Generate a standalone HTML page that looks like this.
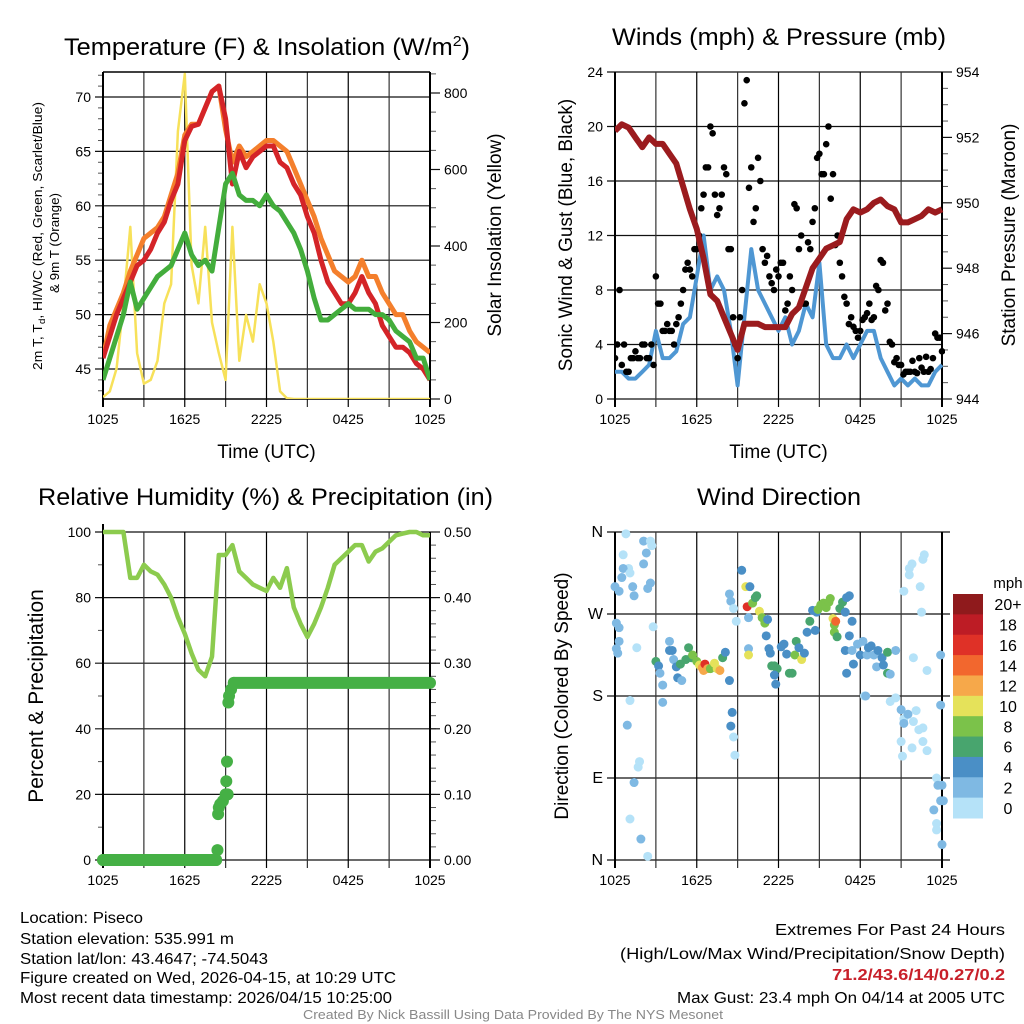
<!DOCTYPE html>
<html><head><meta charset="utf-8">
<style>
html,body{margin:0;padding:0;background:#fff;}
svg{display:block;font-family:"Liberation Sans",sans-serif;}
</style></head>
<body>
<svg id="fig" width="1024" height="1024" viewBox="0 0 1024 1024" xmlns="http://www.w3.org/2000/svg">
<rect width="1024" height="1024" fill="#fff"/>
<g id="p1"></g>
<g id="p2"></g>
<g id="p3"></g>
<g id="p4"></g>

<text x="64" y="55" font-size="24" textLength="406" lengthAdjust="spacingAndGlyphs">Temperature (F) &amp; Insolation (W/m<tspan dy="-9" font-size="15">2</tspan><tspan dy="9">)</tspan></text>
<text x="612" y="45" font-size="24" textLength="334" lengthAdjust="spacingAndGlyphs">Winds (mph) &amp; Pressure (mb)</text>
<text x="38" y="505" font-size="24" textLength="455" lengthAdjust="spacingAndGlyphs">Relative Humidity (%) &amp; Precipitation (in)</text>
<text x="697" y="505" font-size="24" textLength="164" lengthAdjust="spacingAndGlyphs">Wind Direction</text>

<g font-size="16">
<text x="20" y="923" textLength="123" lengthAdjust="spacingAndGlyphs">Location: Piseco</text>
<text x="20" y="944" textLength="214" lengthAdjust="spacingAndGlyphs">Station elevation: 535.991 m</text>
<text x="20" y="964" textLength="248" lengthAdjust="spacingAndGlyphs">Station lat/lon: 43.4647; -74.5043</text>
<text x="20" y="983" textLength="376" lengthAdjust="spacingAndGlyphs">Figure created on Wed, 2026-04-15, at 10:29 UTC</text>
<text x="20" y="1003" textLength="372" lengthAdjust="spacingAndGlyphs">Most recent data timestamp: 2026/04/15 10:25:00</text>
</g>
<g font-size="16">
<text x="775" y="935" textLength="230" lengthAdjust="spacingAndGlyphs">Extremes For Past 24 Hours</text>
<text x="620" y="959" textLength="385" lengthAdjust="spacingAndGlyphs">(High/Low/Max Wind/Precipitation/Snow Depth)</text>
<text x="832" y="980" fill="#c8202a" font-weight="bold" textLength="173" lengthAdjust="spacingAndGlyphs">71.2/43.6/14/0.27/0.2</text>
<text x="677" y="1003" textLength="328" lengthAdjust="spacingAndGlyphs">Max Gust: 23.4 mph On 04/14 at 2005 UTC</text>
</g>
<text x="303" y="1019" font-size="13" fill="#888" textLength="420" lengthAdjust="spacingAndGlyphs">Created By Nick Bassill Using Data Provided By The NYS Mesonet</text>
</svg>
<script>
// ---- data (hours since 1025 UTC) ----
const timeLabels = ["1025","1625","2225","0425","1025"];
const halfHours = []; for (let i=0;i<=48;i++) halfHours.push(i*0.5);
const tempRed = [46,48,50,51.5,53,54.5,55,56,57.5,58.5,60.5,62,66,67.3,67.5,69,70.5,71,68,62,65,63.5,64.5,65,65.5,65.5,64,63.5,62,61,59,57.5,55,53,52,51,51,52,53.5,52,51,49,48,47,47,46.5,45.5,45,44];
const tempOrange = [46,49,50.5,52,54,55.5,57,57.5,58,59,61,63,66.5,67.5,67.5,69,70.5,71,67,64,65.5,64.5,65,65.5,66,66,65.5,65,63.5,62,60.5,59,57,55.5,54,53.5,53,53.5,55,53.5,53.5,52,51,50,50,48.5,47.5,47,46.5];
const dewGreen = [44,46,48,50,53,50.5,51.5,52.5,53.5,54,54.5,56,57.5,55.5,54.5,55,54,58,62,63,61,60.5,60.5,60,61,60,59.5,58.5,57.5,56,54,51.5,49.5,49.5,50,50.5,51,50.5,50.5,50.5,50,50,49.5,48.5,48,47.5,46,46,44];
const solar = [5,20,80,250,450,120,40,50,100,250,300,700,850,350,250,450,200,120,50,450,100,220,150,300,250,150,20,2,0,0,0,0,0,0,0,0,0,0,0,0,0,0,0,0,0,0,0,0,0];
const windSpeed = [2,2,1.5,1.5,2,2.5,5,3,3,3.5,5.5,6,9,12,8,9,8,5,1,6,11,8,7,6,5,6,4,5,7,6,10,4,3,3,4,3,4,5,5,3,2,1,1.5,1,1.5,1,1,2,2.5];
const gustHours = []; for (let i=0;i<=72;i++) gustHours.push(i/3);
const gustSpeed = [3,8,4,2,3,3,4,3,4,9,7,5,5,4,6,8,10,9,11,14,17,20,15,14,17,11,6,3,8,23.4,17,14,16,10,9,8,9,10,7,8,14,12,7,11,14,18,16.5,20,16.5,12,9,7,6,5,5,6,7,6,8,10,7,4,3,2.5,2,2,2,3,2,2,3,4.5,3.5];
const gustHours2 = []; for (let i=0;i<72;i++) gustHours2.push(i/3+1/6);
const gustSpeed2 = [4,2.5,2,3,3.5,3,4,3,2.5,7,5,5.5,5,5.5,7,9.5,9.5,11,12,15,17,19.5,13.5,15,16.5,11,4,6,21.7,15.5,13,17.7,11,10.5,8.5,9.5,10,6.5,9,14.3,11,7,11.5,13,17.7,16.5,18.7,14.7,11.3,10,7.5,5.5,5.3,4.5,5.8,6.3,5.8,8.3,10.2,6.5,4.2,2.7,2.5,1.8,2,2.8,1.9,2.3,3.1,2.2,4.8,4.5];
const pressure = [952.2,952.4,952.3,952,951.7,952,951.8,951.8,951.5,951.2,950.5,949.8,949.2,948.3,947.2,947,946.5,946,945.5,946.3,946.3,946.3,946.2,946.2,946.2,946.2,946.6,946.8,947.4,948,948.3,948.6,948.7,948.8,949.5,949.8,949.7,949.8,950,950.1,949.9,949.8,949.4,949.4,949.5,949.6,949.8,949.7,949.8];
const rh = [100,100,100,100,86,86,90,88,87,84,80,74,69,63,58,56,62,93,93,96,88,86,84,83,82,86,83,89,77,72,68,72,77,83,90,92,94,96,96,91,94,95,97,99,99.5,100,100,99,99];
const precipHours = [0,1,2,3,4,5,6,7,8,8.3,8.4,8.45,8.5,8.6,8.8,9.0,9.05,9.1,9.15,9.2,9.25,9.4,9.6];
const precipVals = [0,0,0,0,0,0,0,0,0,0,0.015,0.07,0.08,0.085,0.09,0.1,0.12,0.15,0.1,0.24,0.25,0.26,0.27];
const dirHours = [0.8,1.0,0.6,0,0.3,0.1,0.3,0.2,0.3,0.1,0.5,0.6,1.1,1.3,1.4,2.1,2.3,2.1,2.6,2.7,2.6,2.4,1.6,1.1,0.9,1.4,1.7,1.8,1.1,1.9,2.4,2.8,3.0,3.2,3.3,3.5,3.5,4.0,4.0,4.2,4.3,4.5,4.6,4.9,4.8,5.2,5.4,5.6,5.7,6.0,6.2,6.4,6.5,6.6,6.8,7.0,7.3,7.5,7.7,7.9,8.1,8.4,8.6,8.5,8.7,8.8,8.4,8.5,8.7,8.9,9.3,9.6,9.7,9.9,9.8,9.8,9.8,10.1,10.3,10.4,10.6,10.8,11.0,11.2,11.1,11.3,11.4,11.5,11.7,11.9,11.8,11.7,12.2,12.4,12.6,12.8,13.0,13.2,13.3,13.5,13.7,13.9,14.1,14.3,14.5,14.8,14.7,14.9,15.1,15.3,15.5,15.7,15.8,16.0,16.1,16.2,16.1,16.3,16.5,16.7,16.9,17.0,17.2,17.4,17.2,16.9,17.0,17.4,17.8,17.5,18.0,18.2,18.5,18.3,18.4,18.6,18.8,19.0,19.2,19.3,19.6,19.7,20.0,20.0,20.2,20.6,20.6,20.2,21.0,21.2,21.2,21.0,21.1,21.8,21.5,21.9,21.2,21.6,21.8,21.6,21.9,22.4,22.6,22.7,22.5,22.1,22.3,22.6,22.6,22.9,22.9,23.6,23.7,24.0,23.9,24.1,23.4,23.6,24.0,23.9,23.9,23.6];
const dirDeg = [358,320,335,300,295,260,255,227,240,232,310,320,315,300,290,350,337,325,350,345,304,298,233,175,148,85,102,108,45,23,4,256,218,213,205,192,173,240,230,230,220,212,200,197,215,220,233,222,225,218,214,211,208,215,210,210,216,210,208,222,228,197,162,147,135,115,292,284,276,262,318,300,278,300,266,232,225,282,288,290,273,266,260,264,246,232,227,213,213,210,193,203,234,237,226,205,205,225,240,233,220,227,250,262,274,272,252,275,280,282,277,283,287,265,258,262,250,245,276,283,272,288,290,262,246,230,205,230,237,215,225,240,225,180,180,233,235,225,212,230,222,214,228,205,204,230,178,174,165,155,150,130,114,123,160,152,295,320,325,313,222,300,330,335,272,164,143,130,145,120,208,90,82,82,65,65,55,40,17,170,225,33];
const dirSpeed = [0,1,0,3,2,3,2,3,2,3,2,3,1,2,2,3,3,3,0,0,3,3,0,0,2,3,0,0,0,3,0,0,6,4,2,2,2,3,4,4,3,4,4,3,6,6,6,7,8,9,10,12,12,17,12,8,10,10,12,6,5,4,4,4,1,0,3,3,0,1,4,10,16,4,2,3,10,8,7,6,10,8,8,4,4,4,4,6,6,7,4,4,5,5,4,6,6,9,7,4,10,4,4,7,4,5,4,8,8,9,9,8,8,10,9,14,8,7,6,6,4,4,4,4,4,4,4,3,3,4,4,2,2,1,2,4,4,3,3,4,4,5,6,6,2,3,1,1,2,0,2,0,0,0,2,0,0,0,0,1,0,0,0,0,1,0,0,0,0,0,0,0,2,2,2,2,2,0,3,2,3,1];
const speedBins = ["0","2","4","6","8","10","12","14","16","18","20+"];
const binColors = ["#b5e2f8","#7fb9e3","#4a8fc6","#48a56e","#7bc24a","#e5e25a","#f6a84a","#f2672e","#df3127","#bd1c25","#8f1a1c"];

const NS="http://www.w3.org/2000/svg";
function mk(parent,tag,attrs){const e=document.createElementNS(NS,tag);for(const k in attrs)e.setAttribute(k,attrs[k]);parent.appendChild(e);return e;}
function lin(d0,d1,r0,r1){return v=>r0+(v-d0)*(r1-r0)/(d1-d0);}
function pathOf(xs,ys,fx,fy){return xs.map((x,i)=>(i?"L":"M")+fx(x).toFixed(1)+","+fy(ys[i]).toFixed(1)).join("");}

function timeAxis(g,x0,x1,yTop,yBot,fx,showTitle){
  for(let h=0;h<=24;h+=3){
    const l=mk(g,"line",{x1:fx(h),x2:fx(h),y1:yTop,y2:yBot+8,stroke:h%6?"#333":"#000","stroke-width":h==0||h==24?2:1.2});
    
    
  }
  timeLabels.forEach((t,i)=>{
    const tx=mk(g,"text",{x:fx(i*6),y:yBot+25,"font-size":14,"text-anchor":"middle"});
    tx.textContent=t;
    
    
  });
  if(showTitle){
    const tt=mk(g,"text",{x:(x0+x1)/2,y:yBot+59,"font-size":19,"text-anchor":"middle"});
    tt.textContent="Time (UTC)";
    
    
  }
}
function yGrid(g,x0,x1,vals,fy,labels,side,fs){
  vals.forEach((v,i)=>{
    const l=mk(g,"line",{x1:side=="L"?x0-8:x0,x2:side=="L"?x1:x1+8,y1:fy(v),y2:fy(v),stroke:"#111","stroke-width":1.2});
    
    
    const t=mk(g,"text",{x:side=="L"?x0-12:x1+12,y:fy(v)+5,"font-size":fs||14,"text-anchor":side=="L"?"end":"start"});
    t.textContent=labels[i];
    
    
  });
}
function rightTicks(g,x1,vals,fy,labels,minorVals){
  minorVals.forEach(v=>{const l=mk(g,"line",{x1:x1,x2:x1+6,y1:fy(v),y2:fy(v),stroke:"#555","stroke-width":1});
    
    });
  vals.forEach((v,i)=>{
    const l=mk(g,"line",{x1:x1,x2:x1+10,y1:fy(v),y2:fy(v),stroke:"#111","stroke-width":1.2});
    
    
    const t=mk(g,"text",{x:x1+14,y:fy(v)+5,"font-size":14});
    t.textContent=labels[i];
    
    
  });
}
function vtext(g,x,y,txt,fs,name,len){
  const t=mk(g,"text",{x:0,y:0,"font-size":fs,"text-anchor":"middle",transform:`translate(${x},${y}) rotate(-90)`});
  if(len){t.setAttribute("textLength",len);t.setAttribute("lengthAdjust","spacingAndGlyphs");}
  t.textContent=txt;
  
  
  return t;
}

// ---- Panel 1 ----
(function(){
  const g=document.getElementById("p1");
  const X0=103,X1=430,YT=72,YB=399;
  const fx=lin(0,24,X0,X1), fy=lin(45,70,369,97), fs=lin(0,800,399,93);
  for(let v=43;v<=72;v++){if(v%5){const l=mk(g,"line",{x1:X0-5,x2:X0,y1:fy(v),y2:fy(v),stroke:"#555"});}}
  yGrid(g,X0,X1,[45,50,55,60,65,70],fy,["45","50","55","60","65","70"],"L");
  rightTicks(g,X1,[0,200,400,600,800],fs,["0","200","400","600","800"],[50,100,150,250,300,350,450,500,550,650,700,750,850]);
  timeAxis(g,X0,X1,YT,YB,fx,true);
  mk(g,"line",{x1:X0,x2:X1,y1:YT,y2:YT,stroke:"#000","stroke-width":1.5});
  mk(g,"line",{x1:X0,x2:X1,y1:YB,y2:YB,stroke:"#000","stroke-width":1.5});
  const clip=mk(g,"clipPath",{id:"c1"});mk(clip,"rect",{x:X0,y:YT,width:X1-X0,height:YB-YT});
  const s=mk(g,"g",{"clip-path":"url(#c1)"});
  const sol=mk(s,"path",{d:pathOf(halfHours,solar,fx,fs),fill:"none",stroke:"#f7e15a","stroke-width":2.5,"stroke-linejoin":"round"});
  
  const o=mk(s,"path",{d:pathOf(halfHours,tempOrange,fx,fy),fill:"none",stroke:"#f47f2c","stroke-width":5,"stroke-linejoin":"round"});
  
  const r=mk(s,"path",{d:pathOf(halfHours,tempRed,fx,fy),fill:"none",stroke:"#d42428","stroke-width":5,"stroke-linejoin":"round"});
  
  const gr=mk(s,"path",{d:pathOf(halfHours,dewGreen,fx,fy),fill:"none",stroke:"#43ad3c","stroke-width":5,"stroke-linejoin":"round"});
  
  const t1=mk(g,"text",{x:0,y:0,"font-size":13,"text-anchor":"middle",transform:"translate(42,236) rotate(-90)",textLength:268,lengthAdjust:"spacingAndGlyphs"});
  
  
  t1.appendChild(document.createTextNode("2m T, T"));
  const sub=mk(t1,"tspan",{"font-size":9,dy:3});sub.textContent="d";
  const rest=mk(t1,"tspan",{dy:-3});rest.textContent=", HI/WC (Red, Green, Scarlet/Blue)";
  vtext(g,59,243,"& 9m T (Orange)",13,"left-axis-title-line2",100);
  vtext(g,501,235,"Solar Insolation (Yellow)",19,"right-axis-title");
})();

// ---- Panel 2 ----
(function(){
  const g=document.getElementById("p2");
  const X0=615,X1=942,YT=72,YB=399;
  const fx=lin(0,24,X0,X1), fy=lin(0,24,399,72), fp=lin(944,954,399,72);
  yGrid(g,X0,X1,[0,4,8,12,16,20,24],fy,["0","4","8","12","16","20","24"],"L");
  const minors=[];for(let v=944.5;v<954;v+=0.5){if(Math.abs(v-Math.round(v/2)*2)>0.01)minors.push(v);}
  rightTicks(g,X1,[944,946,948,950,952,954],fp,["944","946","948","950","952","954"],minors);
  timeAxis(g,X0,X1,YT,YB,fx,true);
  const clip=mk(g,"clipPath",{id:"c2"});mk(clip,"rect",{x:X0,y:YT-5,width:X1-X0+3,height:YB-YT+5});
  const s=mk(g,"g",{"clip-path":"url(#c2)"});
  const w=mk(s,"path",{d:pathOf(halfHours,windSpeed,fx,fy),fill:"none",stroke:"#4f97d3","stroke-width":4,"stroke-linejoin":"round"});
  
  gustHours.forEach((h,i)=>{
    const c=mk(s,"circle",{cx:fx(h),cy:fy(gustSpeed[i]),r:3.3,fill:"#000"});
    
    
  });
  gustHours2.forEach((h,i)=>{
    const c=mk(s,"circle",{cx:fx(h),cy:fy(gustSpeed2[i]),r:3.3,fill:"#000"});
    
    
  });
  const p=mk(s,"path",{d:pathOf(halfHours,pressure,fx,fp),fill:"none",stroke:"#9b1b1e","stroke-width":6,"stroke-linejoin":"round"});
  
  vtext(g,572,235,"Sonic Wind & Gust (Blue, Black)",19,"left-axis-title");
  vtext(g,1015,235,"Station Pressure (Maroon)",19,"right-axis-title");
})();

// ---- Panel 3 ----
(function(){
  const g=document.getElementById("p3");
  const X0=103,X1=430,YT=532,YB=860;
  const fx=lin(0,24,X0,X1), fy=lin(0,100,860,532), fpr=lin(0,0.5,860,532);
  for(let v=10;v<100;v+=20){const l=mk(g,"line",{x1:X0-5,x2:X0,y1:fy(v),y2:fy(v),stroke:"#555"});}
  yGrid(g,X0,X1,[0,20,40,60,80,100],fy,["0","20","40","60","80","100"],"L");
  const minors=[];for(let v=0.02;v<0.5;v+=0.02){minors.push(v);}
  rightTicks(g,X1,[0,0.1,0.2,0.3,0.4,0.5],fpr,["0.00","0.10","0.20","0.30","0.40","0.50"],minors);
  timeAxis(g,X0,X1,YT,YB,fx,false);
  mk(g,"line",{x1:X0,x2:X0,y1:YT-8,y2:YB,stroke:"#000","stroke-width":2});
  const rl=mk(g,"path",{d:pathOf(halfHours,rh,fx,fy),fill:"none",stroke:"#8ccb4e","stroke-width":4.5,"stroke-linejoin":"round"});
  
  for(let i=0;i<precipHours.length;i++){
    const c=mk(g,"circle",{cx:fx(precipHours[i]),cy:fpr(precipVals[i]),r:6,fill:"#45b045"});
    
    
  }
  const last=precipVals[precipVals.length-1];
  const trail=mk(g,"line",{x1:fx(precipHours[precipHours.length-1]),x2:fx(24),y1:fpr(last),y2:fpr(last),stroke:"#45b045","stroke-width":12,"stroke-linecap":"round"});
  
  const first=mk(g,"line",{x1:fx(0),x2:fx(8.3),y1:fpr(0),y2:fpr(0),stroke:"#45b045","stroke-width":12,"stroke-linecap":"round"});
  
  vtext(g,43,696,"Percent & Precipitation",21,"left-axis-title");
})();

// ---- Panel 4 ----
(function(){
  const g=document.getElementById("p4");
  const X0=615,X1=942,YT=532,YB=860;
  const fx=lin(0,24,X0,X1), fy=lin(0,360,860,532);
  yGrid(g,X0,X1+8,[0,90,180,270,360],fy,["N","E","S","W","N"],"L",16);
  timeAxis(g,X0,X1,YT,YB,fx,false);
  dirHours.forEach((h,i)=>{
    const b=Math.max(0,Math.min(10,Math.floor(dirSpeed[i]/2)));
    const c=mk(g,"circle",{cx:fx(h),cy:fy(dirDeg[i]),r:4.5,fill:binColors[b]});
    
    
  });
  const bx=953,bw=30,bt=594,bb=818,bh=(bb-bt)/11;
  speedBins.forEach((lab,i)=>{
    const k=10-i;
    const r=mk(g,"rect",{x:bx,y:bt+i*bh,width:bw,height:bh+0.5,fill:binColors[k]});
    
    
    const t=mk(g,"text",{x:1008,y:bt+i*bh+bh/2+6,"font-size":16,"text-anchor":"middle"});
    t.textContent=speedBins[k];
    
    
  });
  const u=mk(g,"text",{x:1008,y:588,"font-size":15,"text-anchor":"middle"});
  u.textContent="mph";
  
  
  vtext(g,568,696,"Direction (Colored By Speed)",19,"left-axis-title");
})();
</script>
</body></html>
